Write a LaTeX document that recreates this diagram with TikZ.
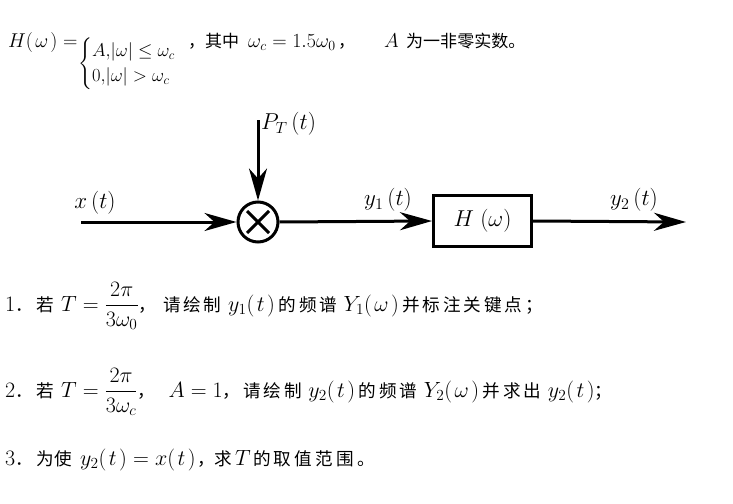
\RequirePackage{fix-cm}
\documentclass[tikz,border=0pt]{standalone}
\usepackage{amsmath}
\usepackage{fontspec}
\newfontfamily\cjk[Scale=0.8]{Noto Sans CJK SC}
\newfontfamily\cjkt[Scale=0.92]{Noto Sans CJK SC}
\newfontfamily\cjkw[Scale=0.8,LetterSpace=16]{Noto Sans CJK SC}
\newfontfamily\cjkx[Scale=0.8,LetterSpace=18]{Noto Sans CJK SC}
\newcommand\myp[1]{(\mkern2mu#1\mkern2mu)}
\usetikzlibrary{arrows.meta}
\begin{document}
\begin{tikzpicture}[x=1pt,y=-1pt,
  txt/.style={inner sep=0pt,font=\fontsize{22}{26}\selectfont},
  top/.style={inner sep=0pt,font=\fontsize{18.5}{26}\selectfont},
  topm/.style={inner sep=0pt,font=\fontsize{20}{26}\selectfont},
  lbl/.style={inner sep=0pt,font=\fontsize{23}{27}\selectfont},
  sig/.style={line width=3pt,-{Stealth[length=32pt,width=18pt,inset=10pt]}},
  blk/.style={draw,line width=3pt,minimum width=98pt,minimum height=51pt,inner sep=0pt,font=\fontsize{23}{27}\selectfont},
  mult/.style={draw,circle,line width=3pt,minimum size=40pt,inner sep=0pt}]
\useasboundingbox (0,0) rectangle (733,503);
% top formula
\node[topm,anchor=base west] (hl) at (8,48) {$H\myp{\omega}=$};
\node[top,anchor=west] (cs) at (78,64) {\renewcommand{\arraystretch}{0.98}$\left\{\begin{array}{@{}l@{}}A{,}|\omega|\le\omega_c\\ 0{,}|\omega|>\omega_c\end{array}\right.$};
\node[top,anchor=base west] (t1) at (188,48) {\cjkt ，其中};
\node[topm,anchor=base west] (t2) at (248,48) {$\omega_c=1.5\omega_0$};
\node[top,anchor=base west] (t3) at (338,48) {\cjkt ，};
\node[topm,anchor=base west] (t4) at (384,48) {$A$};
\node[top,anchor=base west] (t5) at (406,48) {\cjkt 为一非零实数。};
% diagram
\coordinate (xin) at (81,222);
\node[mult] (m) at (258,222) {};
\draw[line width=3pt] (m.center) +(-11,-11) -- +(11,11);
\draw[line width=3pt] (m.center) +(-11,11) -- +(11,-11);
\coordinate (ptop) at (258,120);
\node[blk] (h) at (482.5,221) {$H\;(\omega)$};
\coordinate (yout) at (686,222);
\draw[sig] (xin) -- (m.west);
\draw[sig] (ptop) -- (m.north);
\draw[sig] (m.east) -- (h.west);
\draw[sig] (h.east) -- (yout);
\node[lbl] (lx) at (95,203) {$x\,(t)$};
\node[lbl,anchor=west] (lp) at (261,124) {$P_T\,(t)$};
\node[lbl] (ly1) at (388,200) {$y_1\,(t)$};
\node[lbl] (ly2) at (634,200) {$y_2\,(t)$};
% questions
\node[txt,anchor=base west] (q1) at (5,311) {1{\cjk ．\ 若}\ $T=\dfrac{2\pi}{3\omega_0}${\cjkw ，\ 请绘制}\ $y_1\myp{t}$\,{\cjkw 的频谱}\ $Y_1\myp{\omega}$\,{\cjkw 并标注关键点；}};
\node[txt,anchor=base west] (q2) at (5,397) {2{\cjk ．\ 若}\ $T=\dfrac{2\pi}{3\omega_c}${\cjk ，}\ \ $A=1${\cjkw ，请绘制}\ $y_2\myp{t}$\,{\cjkw 的频谱}\ $Y_2\myp{\omega}$\,{\cjkw 并求出}\ $y_2\myp{t}${\cjk ；}};
\node[txt,anchor=base west] (q3a) at (5,465) {3{\cjk ．\ 为使}};
\node[txt,anchor=base west] (q3b) at (80,465) {$y_2\myp{t}=x\myp{t}$};
\node[txt,anchor=base west] (q3c) at (197,465) {\cjk ，};
\node[txt,anchor=base west] (q3f) at (214,465) {\cjk 求};
\node[txt,anchor=base west] (q3d) at (235,465) {$T$};
\node[txt,anchor=base west] (q3e) at (253,465) {\cjkx 的取值范围。};
\end{tikzpicture}
\end{document}
